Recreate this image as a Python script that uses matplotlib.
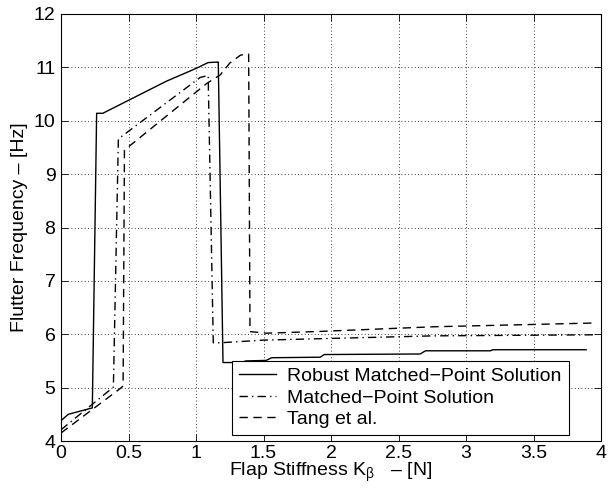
import numpy as np
import matplotlib
matplotlib.use("Agg")
import matplotlib.pyplot as plt

# --- data -----------------------------------------------------------
robust_x = [0, 0.054, 0.232, 0.264, 0.31, 0.78, 1.0, 1.09, 1.165, 1.20,
            1.33, 1.37, 1.52, 1.56, 1.92, 1.95, 2.66, 2.70, 3.18, 3.20, 3.89]
robust_y = [4.38, 4.50, 4.62, 10.14, 10.14, 10.74, 10.98, 11.09, 11.10, 5.47,
            5.47, 5.50, 5.51, 5.56, 5.57, 5.62, 5.63, 5.69, 5.69, 5.71, 5.71]

matched_x = [0, 0.388, 0.425, 1.03, 1.09, 1.128, 1.18, 1.50, 2.76, 3.96]
matched_y = [4.21, 5.01, 9.66, 10.81, 10.85, 5.84, 5.84, 5.89, 5.97, 5.99]

tang_x = [0, 0.437, 0.46, 0.47, 1.08, 1.18, 1.25, 1.33, 1.39, 1.40,
          1.52, 1.89, 2.76, 3.94]
tang_y = [4.15, 4.98, 5.03, 9.45, 10.70, 10.86, 11.08, 11.23, 11.25, 6.05,
          6.02, 6.05, 6.14, 6.21]

labels = ["Robust Matched\u2212Point Solution", "Matched\u2212Point Solution", "Tang et al."]
xticks = [0, 0.5, 1, 1.5, 2, 2.5, 3, 3.5, 4]
yticks = [4, 5, 6, 7, 8, 9, 10, 11, 12]

# --- style ----------------------------------------------------------
plt.rcParams["font.family"] = ["Liberation Sans", "DejaVu Sans"]
plt.rcParams["mathtext.fontset"] = "custom"
plt.rcParams["mathtext.rm"] = "Liberation Sans"
plt.rcParams["mathtext.it"] = "Liberation Sans"
plt.rcParams["font.size"] = 14

fig = plt.figure(figsize=(6.16, 4.95), dpi=100)
ax = fig.add_axes([61 / 616, 1 - 441 / 495, 540 / 616, 427 / 495])

ax.plot(robust_x, robust_y, color="black", lw=1.0, ls="-", label=labels[0])
ax.plot(matched_x, matched_y, color="black", lw=1.0, ls=(0, (6, 3, 1, 3)), label=labels[1])
ax.plot(tang_x, tang_y, color="black", lw=1.0, ls=(0, (6, 4)), label=labels[2])

ax.set_xlim(0, 4)
ax.set_ylim(4, 12)
ax.set_xticks(xticks)
ax.set_xticklabels(["0", "0.5", "1", "1.5", "2", "2.5", "3", "3.5", "4"])
ax.set_yticks(yticks)
ax.tick_params(direction="in", top=True, right=True, length=5, width=0.6,
               labelsize=14)
ax.tick_params(axis="x", pad=3)
ax.tick_params(axis="y", pad=4)
ax.grid(True, ls=(0, (1, 3)), color="black", lw=0.6)
for s in ax.spines.values():
    s.set_linewidth(0.8)

ax.set_xlabel("Flap Stiffness K$_{\\beta}$   \u2013 [N]", fontsize=14, labelpad=-1)
ax.set_ylabel("Flutter Frequency \u2013 [Hz]", fontsize=14, labelpad=4)

leg = ax.legend(loc="lower right", bbox_to_anchor=(0.94, 0.014), fancybox=False,
                framealpha=1, edgecolor="black", handlelength=1.9,
                handletextpad=0.6, borderpad=0.35, labelspacing=0.2,
                borderaxespad=0, fontsize=14)
leg.get_frame().set_linewidth(0.8)

fig.savefig("out.png", dpi=100)
